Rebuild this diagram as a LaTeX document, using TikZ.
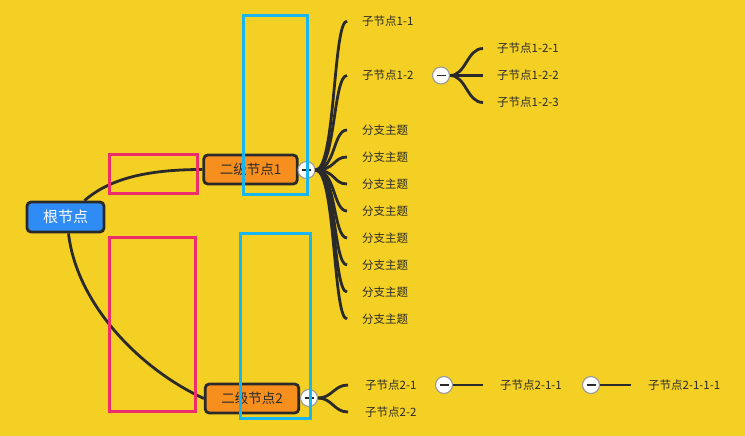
\documentclass[tikz,border=0pt]{standalone}
\usepackage{fontspec}
\newfontfamily\cjk{Noto Sans CJK SC}
\definecolor{bgyellow}{HTML}{F5D024}
\definecolor{linec}{HTML}{2A2A2A}
\definecolor{rootblue}{HTML}{2F8CF4}
\definecolor{suborange}{HTML}{F78F1F}
\definecolor{markpink}{HTML}{EE2E6C}
\definecolor{markblue}{HTML}{18B5F1}

\tikzset {
    root/.style={rectangle, rounded corners=4pt, draw=linec, line width=2.8pt, fill=rootblue, text=white, minimum width=77pt, minimum height=30pt, inner sep=0pt, font=\cjk\fontsize{15}{15}\selectfont},
    sub/.style={rectangle, rounded corners=4pt, draw=linec, line width=2.8pt, fill=suborange, text=linec, minimum height=29pt, inner xsep=16pt, inner ysep=0pt, font=\cjk\fontsize{13.5}{13.5}\selectfont},
    leaf/.style={anchor=west, inner sep=0pt, text=linec, font=\cjk\fontsize{11.5}{11.5}\selectfont},
    fold/.style={circle, draw=gray!80, fill=white, line width=1.1pt, minimum size=17pt, inner sep=0pt,
        path picture={\draw [linec, line width=1.4pt] ([xshift=-4.5pt]path picture bounding box.center) -- ([xshift=4.5pt]path picture bounding box.center);}},
    branch/.style={draw=linec, line width=2.8pt},
    markbox/.style={line width=3pt},
}

\begin{document}
\begin{tikzpicture}[x=1pt, y=-1pt]
    \fill [bgyellow] (0,0) rectangle (745,436);
    \useasboundingbox (0,0) rectangle (745,436);

    \node (root) at (65.5, 217) [root] {根节点};
    \node (n1) at (250.5, 169.5) [sub] {二级节点1};
    \node (n2) at (252, 398.5) [sub] {二级节点2};

    \draw [branch] ([xshift=19pt]root.north) .. controls +(25,-22) and +(-55,0) .. (n1.west);
    \draw [branch] ([xshift=3pt]root.south) .. controls +(8,70) and +(-65,-30) .. (n2.west);

    \node (a1) at (362, 21) [leaf] {子节点1-1};
    \node (a2) at (362, 75.5) [leaf] {子节点1-2};
    \foreach \i in {1,...,8}
        \node (b\i) at (362, 103+27*\i) [leaf] {分支主题};
    \node (c1) at (497, 48.5) [leaf] {子节点1-2-1};
    \node (c2) at (497, 75.5) [leaf] {子节点1-2-2};
    \node (c3) at (497, 102.5) [leaf] {子节点1-2-3};

    \node (d1) at (365, 385) [leaf] {子节点2-1};
    \node (d2) at (365, 412) [leaf] {子节点2-2};
    \node (e1) at (500, 385) [leaf] {子节点2-1-1};
    \node (g1) at (648, 385) [leaf] {子节点2-1-1-1};

    \node (f1) at (306.5, 170) [fold] {};
    \node (f2) at (309, 398) [fold] {};
    \node (f3) at (441, 75.5) [fold] {};
    \node (f4) at (444, 385) [fold] {};
    \node (f5) at (591, 385) [fold] {};

    \draw [branch] (f1.east) .. controls +(20,0) and +(-14,0) .. ([xshift=-15pt]a1.west);
    \draw [branch] (f1.east) .. controls +(20,0) and +(-14,0) .. ([xshift=-15pt]a2.west);
    \foreach \i in {1,...,8}
        \draw [branch] (f1.east) .. controls +(20,0) and +(-14,0) .. ([xshift=-15pt]b\i.west);
    \draw [branch] (f3.east) .. controls +(16,0) and +(-16,0) .. ([xshift=-14pt]c1.west);
    \draw [branch] (f3.east) -- ([xshift=-14pt]c2.west);
    \draw [branch] (f3.east) .. controls +(16,0) and +(-16,0) .. ([xshift=-14pt]c3.west);
    \draw [branch] (f2.east) .. controls +(14,0) and +(-14,0) .. ([xshift=-17pt]d1.west);
    \draw [branch] (f2.east) .. controls +(14,0) and +(-14,0) .. ([xshift=-17pt]d2.west);
    \draw [branch] (f4.east) -- ([xshift=-17pt]e1.west);
    \draw [branch] (f5.east) -- ([xshift=-17pt]g1.west);

    \draw [markbox, markpink] (109,154) rectangle (197,193.5);
    \draw [markbox, markpink] (109,237) rectangle (195,411);
    \draw [markbox, markblue] (243.5,15.5) rectangle (307,194.5);
    \draw [markbox, markblue] (240.5,233.5) rectangle (310,418);
\end{tikzpicture}
\end{document}
